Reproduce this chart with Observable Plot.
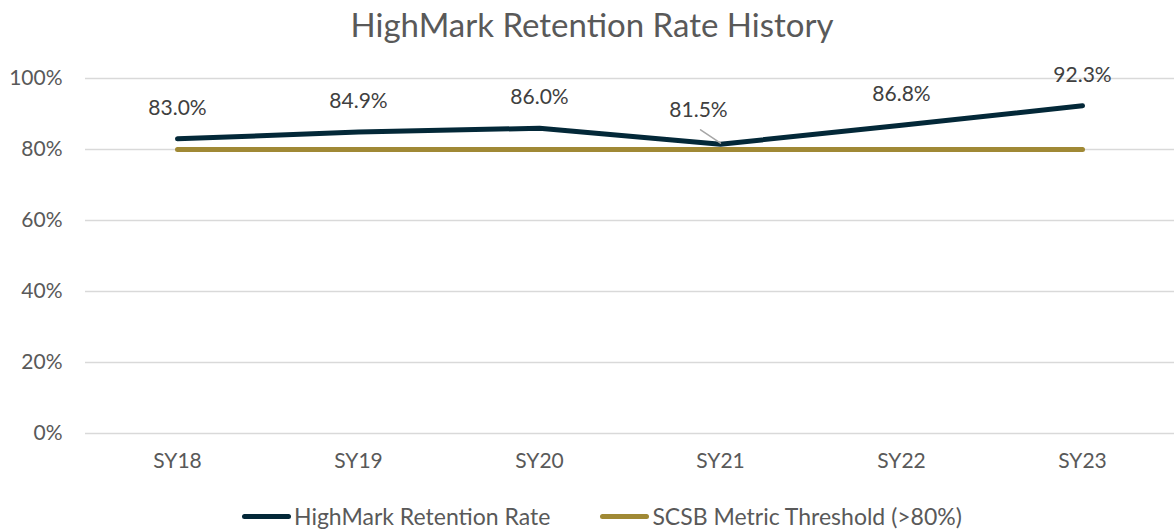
<!DOCTYPE html>
<html>
<head>
<meta charset="utf-8">
<script src="https://cdn.jsdelivr.net/npm/d3@7"></script>
<script src="https://cdn.jsdelivr.net/npm/@observablehq/plot@0.6"></script>
<style>
  body { margin: 0; background: #fff; font-family: Lato, "Open Sans", sans-serif; }
  #wrap { position: relative; width: 1174px; height: 529px; overflow: hidden; }
  #title { position: absolute; top: 4px; left: 0; width: 1184px; text-align: center; font-size: 33px; line-height: 40px; color: #595959; }
  #chart { position: absolute; top: 52px; left: 0; }
  #legend { position: absolute; top: 502px; left: 242px; display: flex; align-items: center; font-size: 23px; line-height: 28px; color: #595959; }
  .sw { display: inline-block; width: 49px; height: 5px; border-radius: 3px; margin-right: 3px; }
  .item { display: flex; align-items: center; margin-right: 50px; }
</style>
</head>
<body>
<div id="wrap">
  <div id="title">HighMark Retention Rate History</div>
  <div id="chart"></div>
  <div id="legend"></div>
</div>
<script>
const years = ["SY18", "SY19", "SY20", "SY21", "SY22", "SY23"];
const retention = [83.0, 84.9, 86.0, 81.5, 86.8, 92.3];
const threshold = [80, 80, 80, 80, 80, 80];
const yTicks = [0, 20, 40, 60, 80, 100];
const seriesNames = ["HighMark Retention Rate", "SCSB Metric Threshold (>80%)"];
const colors = ["#032838", "#A08935"];

const rows = years.map((y, i) => ({ year: y, value: retention[i], thr: threshold[i] }));

const leader = { draw(context, l) { context.moveTo(0, 0); context.lineTo(0, -l); } };

const plot = Plot.plot({
  width: 1174,
  height: 440,
  marginLeft: 85,
  marginRight: 0,
  marginTop: 26,
  marginBottom: 59,
  style: { fontFamily: "Lato, 'Open Sans', sans-serif", fontSize: "21px", color: "#595959", background: "#fff" },
  x: { type: "point", domain: years, padding: 0.5, label: null },
  y: { domain: [0, 100], label: null },
  marks: [
    Plot.gridY(yTicks, { stroke: "#d9d9d9", strokeOpacity: 1, strokeWidth: 1.5 }),
    Plot.axisY(yTicks, { tickSize: 0, tickPadding: 23, tickFormat: d => d + "%", fontSize: 21, fill: "#595959", label: null }),
    Plot.axisX({ tickSize: 0, tickPadding: 20, fontSize: 21, fill: "#595959", label: null }),
    Plot.line(rows, { x: "year", y: "thr", stroke: colors[1], strokeWidth: 5, strokeLinecap: "round" }),
    Plot.line(rows, { x: "year", y: "value", stroke: colors[0], strokeWidth: 5, strokeLinecap: "round", strokeLinejoin: "round" }),
    Plot.text(rows.filter(d => d.year !== "SY21"), { x: "year", y: "value", text: d => d.value.toFixed(1) + "%", dy: -31, fontSize: 21, fill: "#404040" }),
    Plot.text(rows.filter(d => d.year === "SY21"), { x: "year", y: "value", text: d => d.value.toFixed(1) + "%", dx: -22, dy: -34, fontSize: 21, fill: "#404040" }),
    Plot.vector(rows.filter(d => d.year === "SY21"), { x: "year", y: "value", rotate: -56, length: 24, anchor: "start", shape: leader, stroke: "#a6a6a6", strokeWidth: 1.5, dy: -1 })
  ]
});
document.getElementById("chart").appendChild(plot);

const legend = document.getElementById("legend");
seriesNames.forEach((name, i) => {
  const item = document.createElement("div");
  item.className = "item";
  const sw = document.createElement("span");
  sw.className = "sw";
  sw.style.background = colors[i];
  item.appendChild(sw);
  item.appendChild(document.createTextNode(name));
  legend.appendChild(item);
});
</script>
</body>
</html>
